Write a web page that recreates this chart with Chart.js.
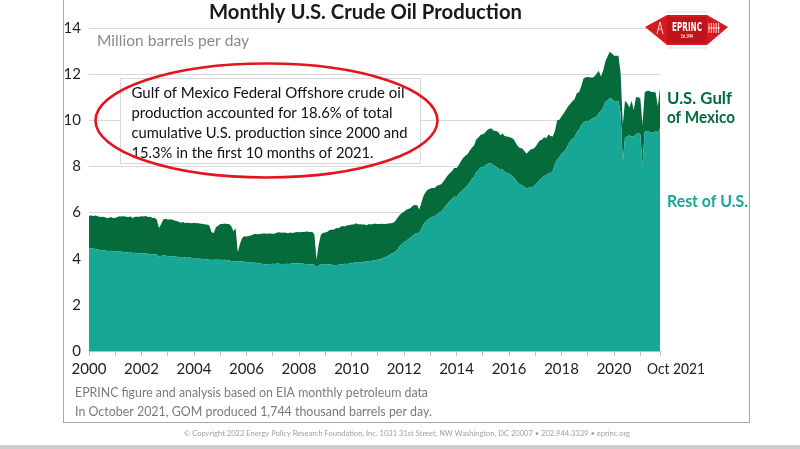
<!DOCTYPE html>
<html><head><meta charset="utf-8">
<script src="https://cdn.jsdelivr.net/npm/chart.js@4.4.1/dist/chart.umd.min.js"></script>
<style>html,body{margin:0;padding:0;background:#fff;overflow:hidden}#wrap{width:800px;height:449px;position:relative}</style>
</head><body><div id="wrap"><canvas id="c" width="800" height="449"></canvas></div>
<script>
// Monthly values, Jan 2000 .. Oct 2021 (million barrels per day)
const startYear = 2000;
const restOfUS = [
  4.46,4.45,4.44,4.42,4.40,4.38,4.36,4.37,4.35,4.33,4.34,4.32, // 2000
  4.30,4.31,4.32,4.30,4.28,4.27,4.29,4.27,4.25,4.26,4.24,4.25, // 2001
  4.24,4.22,4.23,4.21,4.20,4.18,4.19,4.17,4.10,4.12,4.15,4.13, // 2002
  4.12,4.10,4.11,4.10,4.08,4.07,4.06,4.07,4.05,4.04,4.05,4.03, // 2003
  4.03,4.02,4.01,4.00,3.99,3.98,3.97,3.96,3.94,3.95,3.96,3.95, // 2004
  3.95,3.94,3.95,3.93,3.92,3.90,3.89,3.90,3.88,3.89,3.88,3.87, // 2005
  3.86,3.84,3.85,3.83,3.82,3.80,3.79,3.78,3.76,3.75,3.76,3.77, // 2006
  3.78,3.77,3.79,3.78,3.77,3.76,3.78,3.77,3.78,3.79,3.80,3.80, // 2007
  3.80,3.79,3.78,3.77,3.76,3.75,3.75,3.74,3.63,3.72,3.76,3.78, // 2008
  3.74,3.75,3.76,3.74,3.72,3.73,3.74,3.75,3.76,3.78,3.77,3.79, // 2009
  3.80,3.82,3.84,3.83,3.85,3.86,3.88,3.87,3.89,3.90,3.92,3.94, // 2010
  3.96,3.98,4.02,4.05,4.10,4.15,4.20,4.26,4.30,4.40,4.55,4.62, // 2011
  4.72,4.78,4.85,4.92,5.00,5.08,5.10,5.15,5.30,5.50,5.62,5.70, // 2012
  5.78,5.82,5.85,5.92,6.00,6.05,6.15,6.30,6.40,6.50,6.60,6.70, // 2013
  6.68,6.80,6.90,7.00,7.08,7.18,7.30,7.45,7.55,7.75,7.85,7.95, // 2014
  7.98,8.02,8.10,8.15,8.12,8.05,8.00,7.92,7.85,7.88,7.76,7.72, // 2015
  7.68,7.62,7.55,7.42,7.30,7.22,7.18,7.12,7.05,7.08,7.10,7.12, // 2016
  7.20,7.30,7.42,7.50,7.58,7.62,7.70,7.72,7.80,8.10,8.30,8.40, // 2017
  8.55,8.65,8.75,8.95,9.10,9.20,9.28,9.48,9.60,9.78,9.90,9.95, // 2018
  9.96,10.00,10.08,10.12,10.16,10.30,10.40,10.55,10.80,10.85,10.95,10.92, // 2019
  10.85,10.80,10.85,10.30,8.20,9.25,9.30,9.35,9.30,9.30,9.40,9.45, // 2020
  9.40,8.05,9.50,9.55,9.50,9.48,9.45,9.55,9.45,9.66 // 2021 (Jan-Oct)
];
const gulfOfMexico = [
  1.40,1.42,1.41,1.45,1.44,1.43,1.46,1.44,1.42,1.44,1.47,1.45, // 2000
  1.48,1.50,1.52,1.53,1.56,1.55,1.52,1.56,1.52,1.56,1.58,1.57, // 2001
  1.60,1.61,1.62,1.60,1.62,1.58,1.59,1.52,1.23,1.38,1.56,1.60, // 2002
  1.58,1.60,1.59,1.56,1.55,1.53,1.50,1.52,1.50,1.52,1.50,1.51, // 2003
  1.53,1.52,1.53,1.52,1.53,1.50,1.51,1.48,1.22,1.15,1.40,1.48, // 2004
  1.55,1.56,1.58,1.57,1.58,1.52,1.30,1.42,0.40,0.75,1.02,1.10, // 2005
  1.10,1.14,1.16,1.22,1.26,1.26,1.28,1.30,1.34,1.33,1.33,1.32, // 2006
  1.30,1.32,1.35,1.37,1.36,1.38,1.34,1.33,1.36,1.32,1.34,1.36, // 2007
  1.35,1.37,1.38,1.40,1.42,1.40,1.42,1.32,0.32,0.90,1.28,1.35, // 2008
  1.40,1.42,1.48,1.52,1.55,1.60,1.58,1.64,1.66,1.62,1.68,1.66, // 2009
  1.68,1.66,1.70,1.66,1.64,1.62,1.60,1.58,1.62,1.58,1.60,1.58, // 2010
  1.55,1.52,1.50,1.46,1.42,1.38,1.34,1.30,1.32,1.38,1.35,1.36, // 2011
  1.32,1.34,1.30,1.28,1.30,1.25,1.22,0.98,1.15,1.25,1.28,1.30, // 2012
  1.26,1.24,1.22,1.24,1.20,1.18,1.20,1.18,1.22,1.22,1.20,1.24, // 2013
  1.24,1.26,1.32,1.36,1.38,1.35,1.38,1.36,1.36,1.42,1.40,1.42, // 2014
  1.42,1.44,1.48,1.48,1.52,1.50,1.54,1.58,1.50,1.55,1.56,1.58, // 2015
  1.60,1.62,1.64,1.62,1.58,1.58,1.60,1.55,1.50,1.58,1.64,1.64, // 2016
  1.64,1.68,1.70,1.66,1.68,1.60,1.68,1.60,1.50,1.45,1.70,1.62, // 2017
  1.62,1.65,1.70,1.66,1.62,1.62,1.64,1.70,1.62,1.70,1.90,1.92, // 2018
  1.92,1.86,1.76,1.78,1.86,1.85,1.50,1.60,1.75,1.90,2.02,1.98, // 2019
  1.95,2.00,1.95,1.75,1.60,1.60,1.45,1.20,1.55,1.15,1.60,1.55, // 2020
  1.55,1.75,1.70,1.72,1.78,1.75,1.78,1.65,1.15,1.744 // 2021 (Jan-Oct)
];
const xTickMonths = [0,12,24,36,48,60,72,84,96,108,120,132,144,156,168,180,192,204,216,228,240,252,261];
const lastTickLabel = 'Oct 2021';
const yMin = 0, yMax = 14, yStep = 2;

const title = 'Monthly U.S. Crude Oil Production';
const unitLabel = 'Million barrels per day';
const noteLines = [
  'Gulf of Mexico Federal Offshore crude oil',
  'production accounted for 18.6% of total',
  'cumulative U.S. production since 2000 and',
  '15.3% in the first 10 months of 2021.'
];
const sourceLines = [
  'EPRINC figure and analysis based on EIA monthly petroleum data',
  'In October 2021, GOM produced 1,744 thousand barrels per day.'
];
const copyright = '\u00A9 Copyright 2022 Energy Policy Research Foundation, Inc. 1031 31st Street, NW Washington, DC 20007 \u2022 202.944.3339 \u2022 eprinc.org';

const FONT = 'Lato, "Open Sans", sans-serif';
const TEAL = '#17a796';
const DARK = '#066b3a';

function fitText(ctx, text, x, y, font, color, width, align) {
  ctx.save();
  ctx.font = font; ctx.fillStyle = color; ctx.textBaseline = 'alphabetic'; ctx.textAlign = 'left';
  const w = ctx.measureText(text).width;
  const s = width ? width / w : 1;
  const tw = w * s;
  let x0 = x;
  if (align === 'center') x0 = x - tw / 2; else if (align === 'right') x0 = x - tw;
  ctx.translate(x0, y); ctx.scale(s, 1);
  ctx.fillText(text, 0, 0);
  ctx.restore();
}

const decorations = {
  id: 'decorations',
  beforeDraw(chart) {
    const ctx = chart.ctx;
    ctx.save();
    ctx.fillStyle = '#fff'; ctx.fillRect(0, 0, 800, 449);
    ctx.restore();
  },
  afterDraw(chart) {
    const ctx = chart.ctx;
    const xs = chart.scales.x;
    ctx.save();
    // frame
    ctx.strokeStyle = '#a6a6a6'; ctx.lineWidth = 1;
    ctx.strokeRect(63.5, -2, 686, 424.5);
    // bottom strip
    ctx.fillStyle = '#cfcfcf'; ctx.fillRect(0, 445, 800, 4);
    // title
    fitText(ctx, title, 209, 18.5, 'bold 21px ' + FONT, '#1a1a1a', 313);
    // unit
    fitText(ctx, unitLabel, 97, 46, '16px ' + FONT, '#8a8a8a', 152);
    // annotation box
    ctx.fillStyle = '#fff'; ctx.fillRect(120.5, 78.5, 300, 85);
    ctx.strokeStyle = '#d9d9d9'; ctx.lineWidth = 1; ctx.strokeRect(120.5, 78.5, 300, 85);
    const noteW = [273, 261, 276, 242];
    noteLines.forEach((t, i) => fitText(ctx, t, 131.5, 97.5 + i * 20, '15px ' + FONT, '#111', noteW[i]));
    // red ellipse
    ctx.beginPath(); ctx.ellipse(266.5, 120.5, 171, 57, 0, 0, Math.PI * 2);
    ctx.strokeStyle = '#e3141c'; ctx.lineWidth = 2.6; ctx.stroke();
    // series labels
    fitText(ctx, 'U.S. Gulf', 667, 103.5, 'bold 17px ' + FONT, DARK, 65);
    fitText(ctx, 'of Mexico', 667, 123, 'bold 17px ' + FONT, DARK, 68);
    fitText(ctx, 'Rest of U.S.', 667, 207, 'bold 17px ' + FONT, TEAL, 81);
    // last x tick label
    fitText(ctx, lastTickLabel, xs.getPixelForValue(261) + 16, 374, '15px ' + FONT, '#222', 58, 'center');
    // source notes
    fitText(ctx, sourceLines[0], 75, 397, '14px ' + FONT, '#7a7a7a', 353);
    fitText(ctx, sourceLines[1], 75, 416, '14px ' + FONT, '#7a7a7a', 357);
    // copyright
    fitText(ctx, copyright, 407, 436, '7.5px ' + FONT, '#a0a0a0', 446, 'center');
    // logo
    ctx.fillStyle = '#d71920';
    ctx.beginPath();
    ctx.moveTo(645, 27); ctx.lineTo(667, 15); ctx.lineTo(707, 15); ctx.lineTo(728, 27);
    ctx.lineTo(707, 45); ctx.lineTo(667, 45); ctx.closePath(); ctx.fill();
    ctx.fillStyle = '#c0141b'; ctx.fillRect(667, 17, 40, 26);
    fitText(ctx, 'EPRINC', 687, 31, 'bold 12px "DejaVu Sans Condensed", ' + FONT, '#fff', 30, 'center');
    fitText(ctx, 'Est. 1944', 687, 38, 'bold 5px ' + FONT, '#fff', 12, 'center');
    ctx.strokeStyle = '#fff'; ctx.lineWidth = 0.8;
    for (let i = 0; i < 5; i++) { ctx.beginPath(); ctx.moveTo(709 + i * 2.4, 23); ctx.lineTo(709 + i * 2.4, 33); ctx.stroke(); }
    ctx.beginPath(); ctx.moveTo(708, 28); ctx.lineTo(720, 28); ctx.stroke();
    ctx.beginPath(); ctx.moveTo(657, 34); ctx.lineTo(660, 22); ctx.lineTo(663, 34); ctx.moveTo(658, 29); ctx.lineTo(662, 29); ctx.stroke();
    ctx.strokeStyle = '#c9c9c9'; ctx.lineWidth = 0.6;
    ctx.beginPath(); ctx.moveTo(667, 12); ctx.lineTo(707, 12); ctx.moveTo(667, 48); ctx.lineTo(707, 48); ctx.stroke();
    ctx.restore();
  }
};

const months = restOfUS.map((_, i) => i);
new Chart(document.getElementById('c'), {
  type: 'line',
  data: {
    datasets: [
      { label: 'Rest of U.S.', data: months.map(i => ({ x: i, y: restOfUS[i] })),
        backgroundColor: TEAL, borderColor: 'rgba(0,0,0,0)', borderWidth: 0, fill: 'origin', pointRadius: 0, tension: 0 },
      { label: 'U.S. Gulf of Mexico', data: months.map(i => ({ x: i, y: gulfOfMexico[i] })),
        backgroundColor: DARK, borderColor: 'rgba(0,0,0,0)', borderWidth: 0, fill: '-1', pointRadius: 0, tension: 0 }
    ]
  },
  options: {
    responsive: false, animation: false, devicePixelRatio: 1,
    layout: { padding: { left: 0, right: 140, top: 28, bottom: 68 } },
    plugins: { legend: { display: false }, tooltip: { enabled: false } },
    scales: {
      x: {
        type: 'linear', min: 0, max: 261,
        afterBuildTicks: s => { s.ticks = xTickMonths.map(v => ({ value: v })); },
        afterFit: s => { s.height = 30; },
        ticks: {
          autoSkip: false, maxRotation: 0, padding: 4, color: '#222', font: { family: FONT, size: 15 },
          callback: v => (v % 24 === 0 ? String(startYear + v / 12) : '')
        },
        grid: { drawOnChartArea: false, drawTicks: true, tickLength: 5, color: '#bfbfbf' },
        border: { display: true, color: '#bfbfbf' }
      },
      y: {
        stacked: true, min: yMin, max: yMax,
        afterFit: s => { s.width = 89; },
        ticks: { stepSize: yStep, padding: 8, color: '#222', font: { family: FONT, size: 15 } },
        grid: { color: '#d9d9d9', drawTicks: false },
        border: { display: false }
      }
    }
  },
  plugins: [decorations]
});
</script>
</body></html>
